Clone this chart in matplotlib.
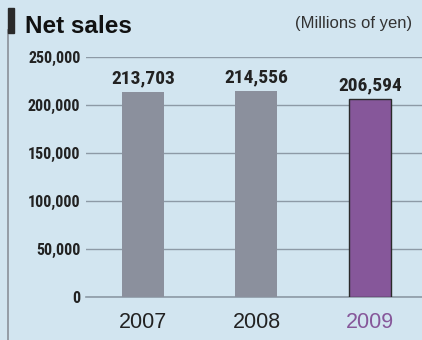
import matplotlib
matplotlib.use("Agg")
import matplotlib.pyplot as plt
from matplotlib.patches import Rectangle
from matplotlib.lines import Line2D
from matplotlib import font_manager

years = ["2007", "2008", "2009"]
sales = [213703, 214556, 206594]
yticks = [0, 50000, 100000, 150000, 200000, 250000]

bold_names = {f.name for f in font_manager.fontManager.ttflist
              if isinstance(f.weight, int) and f.weight >= 700}
cands = ["Roboto Condensed", "Archivo Narrow", "Barlow Semi Condensed", "Asap Condensed",
         "Barlow Condensed", "Roboto"]
narrow = [n for n in cands if n in bold_names][:1] + ["DejaVu Sans"]
sans = ["Liberation Sans", "DejaVu Sans"]

bg = "#d2e5f0"
gray_bar = "#8b909d"
purple = "#86579a"
grid_c = "#8d9aa6"
txt = "#222222"

fig = plt.figure(figsize=(4.22, 3.40), dpi=100, facecolor=bg)
W, H = 422, 340
ax = fig.add_axes([86 / W, 1 - 297 / H, (422 - 86) / W, (297 - 57) / H])
ax.set_facecolor(bg)

x = list(range(len(years)))
colors = [gray_bar, gray_bar, purple]
edges = [gray_bar, gray_bar, "#2a2a2a"]
ax.bar(x, sales, width=0.37, color=colors, edgecolor=edges, linewidth=[0, 0, 1.0], zorder=3)

ax.set_xlim(-0.503, 2.46)
ax.set_ylim(0, 250000)
ax.set_yticks(yticks)
ax.set_yticklabels([f"{v:,}" for v in yticks], fontsize=11.5, fontweight="bold",
                   family=narrow, color=txt)
ax.tick_params(axis="y", length=0, pad=4)
ax.yaxis.grid(True, color=grid_c, linewidth=1.0, zorder=1)
ax.set_axisbelow(True)
ax.axhline(0, color=grid_c, linewidth=1.2, zorder=2, clip_on=False)
ax.set_xticks(x)
ax.set_xticklabels(years, fontsize=15.5, family=sans)
for lbl, c in zip(ax.get_xticklabels(), [txt, txt, purple]):
    lbl.set_color(c)
ax.tick_params(axis="x", length=0, pad=11)
for s in ax.spines.values():
    s.set_visible(False)

for xi, v in zip(x, sales):
    ax.annotate(f"{v:,}", (xi, v), xytext=(0, 6), textcoords="offset points",
                ha="center", va="baseline", fontsize=14, fontweight="bold",
                family=narrow, color=txt, annotation_clip=False)

# decorations
fig.patches.append(Rectangle((8 / W, 1 - 33 / H), 6 / W, 25 / H, transform=fig.transFigure,
                             color="#2a2a2a", zorder=5))
fig.lines.append(Line2D([7.5 / W, 7.5 / W], [0, 1 - 30 / H], transform=fig.transFigure,
                        color="#8a9099", linewidth=1.2))
fig.text(25 / W, 1 - 33 / H, "Net sales", fontsize=17.5, fontweight="bold", color="#111111",
         family=sans, ha="left", va="baseline")
fig.text(412 / W, 1 - 28 / H, "(Millions of yen)", fontsize=12, color="#333333",
         family=sans, ha="right", va="baseline")

fig.savefig("out.png", dpi=100, facecolor=bg)
